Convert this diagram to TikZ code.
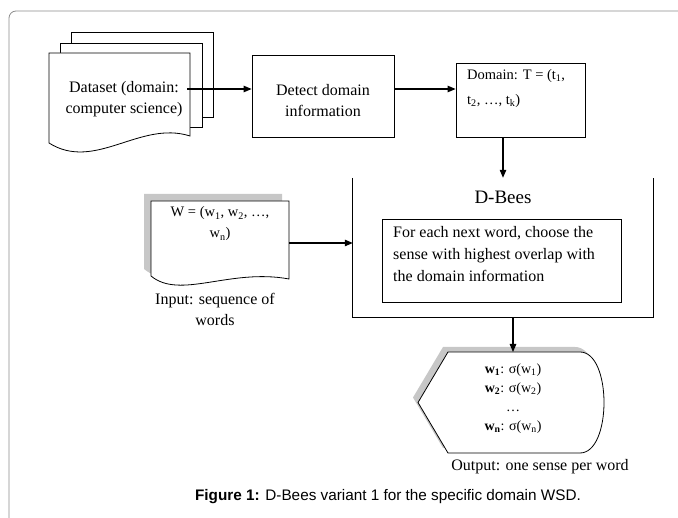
\documentclass[tikz,border=0pt]{standalone}
\usepackage{fontspec}
\setmainfont{Liberation Serif}
\newfontfamily\capfont{Liberation Sans}
\usetikzlibrary{arrows.meta}

\begin{document}
\begin{tikzpicture}[x=1pt,y=-1pt,
  box/.style={draw,line width=0.8pt,fill=white,inner sep=0pt},
  txt/.style={inner sep=0pt,align=center,font=\fontsize{16}{21}\selectfont},
  small/.style={inner sep=0pt,font=\fontsize{14.5}{21}\selectfont},
  arr/.style={-{Triangle[length=8pt,width=6.5pt]},line width=1.1pt},
  shade/.style={fill=black!22,draw=none}]
\useasboundingbox (0,0) rectangle (678,518);
\draw[black!45,line width=0.8pt,rounded corners=7pt] (9,518)--(9,11)--(678,11);

% dataset stack
\draw[box] (71,32) rectangle (213,117);
\draw[box] (60,43) rectangle (202,127);
\draw[box] (49,53)--(190,53)--(190,136) .. controls (140,120) and (95,172) .. (49,143)--cycle;
\node[txt] (dataset) at (124,99.5) {Dataset (domain:\\computer science)};

\node[box,minimum width=142,minimum height=82] (detect) at (323,96) {};
\node[txt] (detecttxt) at (323,101) {Detect domain\\information};
\node[box,minimum width=129,minimum height=74] (domain) at (520.5,100) {};
\node[small,anchor=north west,align=left,font=\fontsize{14.5}{25}\selectfont] (domaintxt) at (467,69) {Domain: T = (t\textsubscript{1},\\t\textsubscript{2}, \dots, t\textsubscript{k})};

\coordinate (ds) at (187,89);
\draw[arr] (ds) -- (ds -| detect.west);
\draw[arr] (detect.east |- ds) -- (ds -| domain.west);

% D-Bees
\node[minimum width=300,minimum height=139,inner sep=0pt] (dbees) at (503,247.5) {};
\draw[line width=0.8pt] (dbees.north west)--(dbees.south west)--(dbees.south east)--(dbees.north east);
\node[inner sep=0pt,font=\fontsize{19}{22}\selectfont] (dbeestitle) at (503,197) {D-Bees};
\node[box,minimum width=239,minimum height=83] (choose) at (501.5,260.5) {};
\node[txt,anchor=north west,align=left,font=\fontsize{16}{22}\selectfont] (choosetxt) at (393,226) {For each next word, choose the\\sense with highest overlap with\\the domain information};
\draw[arr] (domain.south -| dbees.north) -- (dbees.north);

% input words
\path[shade,shift={(-7,-7)}] (151,201)--(289,201)--(289,279) .. controls (230,268) and (180,300) .. (151,276)--cycle;
\draw[box] (151,201)--(289,201)--(289,279) .. controls (230,268) and (180,300) .. (151,276)--cycle;
\node[small,align=center] (wseq) at (220,224) {W = (w\textsubscript{1}, w\textsubscript{2}, \dots,\\w\textsubscript{n})};
\node[txt] (inlabel) at (215,309) {Input: sequence of\\words};
\coordinate (win) at (289,243);
\draw[arr] (win) -- (win -| dbees.west);

% output senses
\path[shade,shift={(-5,-5)}] (448,352)--(580,352) .. controls (612,352) and (612,453) .. (580,453)--(448,453)--(418,402.5)--cycle;
\draw[box] (448,352)--(580,352) .. controls (612,352) and (612,453) .. (580,453)--(448,453)--(418,402.5)--cycle;
\coordinate (outtop) at (513,352);
\draw[arr] (dbees.south -| outtop) -- (outtop);
\node[small,align=center,font=\fontsize{14}{19}\selectfont] (senselist) at (513,398.5) {\textbf{w\textsubscript{1}}: σ(w\textsubscript{1})\\\textbf{w\textsubscript{2}}: σ(w\textsubscript{2})\\\dots\\\textbf{w\textsubscript{n}}: σ(w\textsubscript{n})};
\node[txt] (outlabel) at (540,467) {Output: one sense per word};

\node[inner sep=0pt,font=\capfont\fontsize{15.3}{18}\selectfont] (caption) at (388,497) {\textbf{Figure 1:} D-Bees variant 1 for the specific domain WSD.};
\end{tikzpicture}
\end{document}
